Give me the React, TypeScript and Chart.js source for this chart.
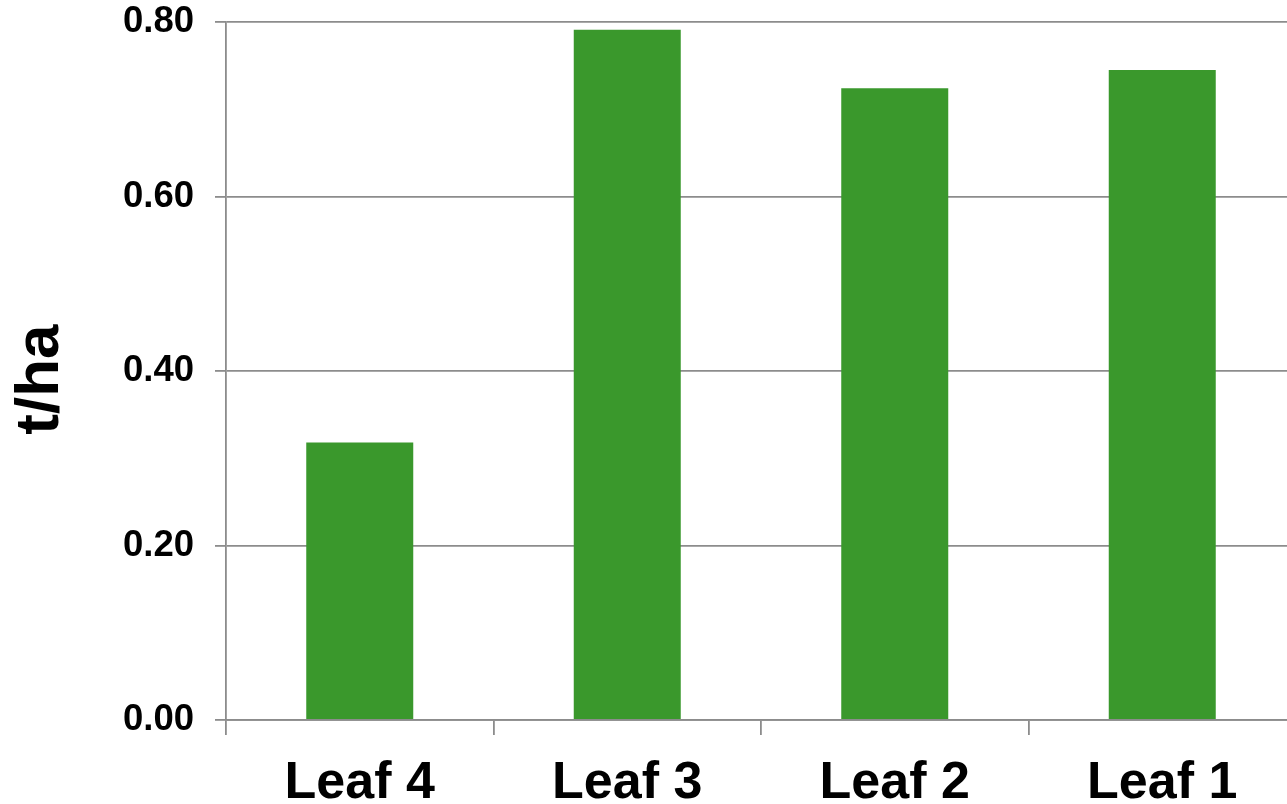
import React, { useEffect, useRef } from "react";
import { Chart, registerables } from "chart.js";

Chart.register(...registerables);

const categories = ["Leaf 4", "Leaf 3", "Leaf 2", "Leaf 1"];
const values = [0.318, 0.791, 0.724, 0.745];
const yTicks = [0, 0.2, 0.4, 0.6, 0.8];
const yTitle = "t/ha ";

const FONT = '"Liberation Sans", Arial, sans-serif';
const GRID = "#8c8c8c";
const BAR = "#3a982c";

export default function App() {
  const ref = useRef<HTMLCanvasElement | null>(null);

  useEffect(() => {
    if (!ref.current) return;
    const chart = new Chart(ref.current, {
      type: "bar",
      data: {
        labels: categories,
        datasets: [
          {
            data: values,
            backgroundColor: BAR,
            borderWidth: 0,
            categoryPercentage: 1,
            barPercentage: 0.4,
          },
        ],
      },
      options: {
        responsive: false,
        animation: false,
        layout: { padding: { top: 22, left: 0, right: 0, bottom: 0 } },
        plugins: {
          legend: { display: false },
          tooltip: { enabled: false },
        },
        scales: {
          x: {
            grid: {
              display: true,
              drawOnChartArea: false,
              drawTicks: true,
              tickLength: 15,
              color: GRID,
              lineWidth: 1.8,
            },
            border: { display: true, color: GRID, width: 1.8 },
            ticks: {
              color: "#000",
              padding: 17,
              maxRotation: 0,
              font: { family: FONT, size: 52, weight: "bold" },
            },
            afterFit: (s: any) => {
              s.height = 84;
              s.paddingLeft = 0;
              s.paddingRight = 0;
            },
          },
          y: {
            min: 0,
            max: 0.8,
            afterBuildTicks: (s: any) => {
              s.ticks = yTicks.map((v) => ({ value: v }));
            },
            grid: {
              color: GRID,
              lineWidth: 1.8,
              drawTicks: true,
              tickLength: 11,
            },
            border: { display: true, color: GRID, width: 1.8 },
            ticks: {
              color: "#000",
              padding: 21,
              font: { family: FONT, size: 36.5, weight: "bold" },
              callback: (v: any) => Number(v).toFixed(2),
            },
            title: {
              display: true,
              text: yTitle,
              color: "#000",
              padding: { top: 4, bottom: 0 },
              font: { family: FONT, size: 62, weight: "bold" },
            },
            afterFit: (s: any) => {
              s.width = 226;
              s.paddingTop = 0;
              s.paddingBottom = 0;
            },
          },
        },
      },
    });
    return () => chart.destroy();
  }, []);

  return (
    <div
      style={{
        position: "absolute",
        left: 0,
        top: 0,
        width: 1287,
        height: 804,
        overflow: "hidden",
        background: "#fff",
      }}
    >
      <canvas
        ref={ref}
        width={1296}
        height={804}
        style={{ display: "block", width: 1296, height: 804 }}
      />
    </div>
  );
}
